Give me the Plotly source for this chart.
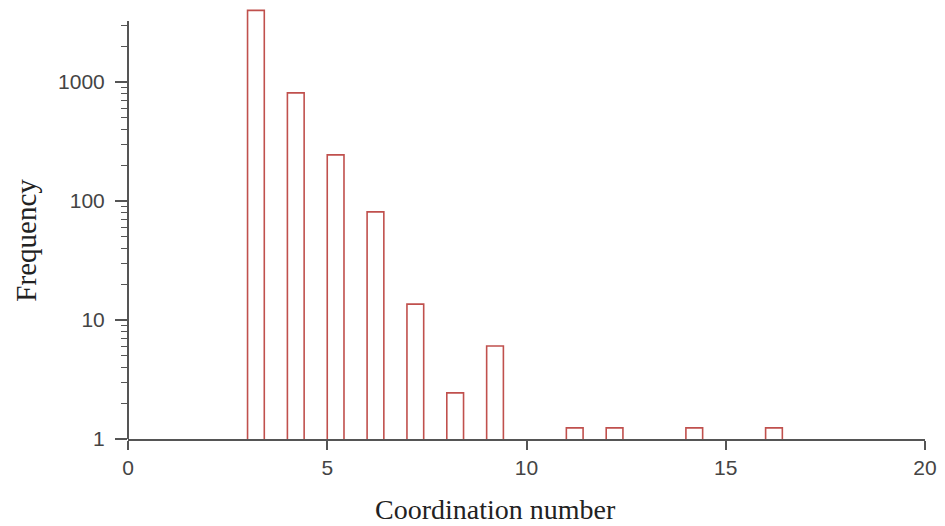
import numpy as np
import plotly.graph_objects as go

coord_numbers = [3, 4, 5, 6, 7, 8, 9, 11, 12, 14, 16]
frequency = [4000, 810, 244, 81, 13.6, 2.44, 6.04, 1.24, 1.24, 1.24, 1.24]

x_ticks = [0, 5, 10, 15, 20]
y_ticks = [1, 10, 100, 1000]
y_tick_labels = ["1", "10", "100", "1000"]
y_minor = [m * d for d in [1, 10, 100, 1000] for m in range(2, 10) if m * d < 3300]
y_axis_top = 3255   # where the drawn y-axis line ends
y_view_top = 4186   # plot area top (bar 3 extends above the axis line)

bar_color = "#c0504d"
axis_color = "#555555"

W, H = 945, 526
L, R, T, B = 128, 15, 8, 87
pw, ph = W - L - R, H - T - B

fig = go.Figure()
fig.add_trace(go.Bar(
    x=coord_numbers,
    y=frequency,
    offset=0,
    width=0.42,
    marker=dict(color="rgba(255,255,255,0)", line=dict(color=bar_color, width=1.6)),
))

tickfont = dict(family="Liberation Sans, Arial", size=21, color="#444")
fig.update_layout(
    width=W, height=H,
    margin=dict(l=L, r=R, t=T, b=B),
    paper_bgcolor="white", plot_bgcolor="white",
    showlegend=False,
    xaxis=dict(
        range=[0, 20], tickvals=x_ticks, ticks="outside", ticklen=9, tickwidth=1.5,
        tickcolor=axis_color, showline=True, linecolor=axis_color, linewidth=2,
        showgrid=False, zeroline=False, ticklabelstandoff=0,
        tickfont=tickfont,
    ),
    yaxis=dict(
        type="log", range=[0, np.log10(y_view_top)], tickvals=y_ticks, ticktext=y_tick_labels,
        ticks="outside", ticklen=12, tickwidth=1.5, tickcolor=axis_color,
        showline=False, showgrid=False, zeroline=False, ticklabelstandoff=6,
        minor=dict(tickvals=y_minor, ticks="outside", ticklen=6, tickwidth=1.2,
                   tickcolor=axis_color, showgrid=False),
        tickfont=tickfont,
    ),
)

# y axis line, ending below the top of the tallest bar as in the reference
fig.add_shape(type="line", xref="paper", yref="y", x0=0, x1=0,
              y0=1, y1=y_axis_top,
              line=dict(color=axis_color, width=2))

fig.add_annotation(text="Coordination number",
                   x=(498 - L) / pw, y=-(510 - (H - B)) / ph, xref="paper", yref="paper",
                   xanchor="center", yanchor="middle", showarrow=False,
                   font=dict(family="Liberation Serif, Times New Roman", size=28, color="#222"))
fig.add_annotation(text="Frequency", textangle=-90,
                   x=-(L - 25) / pw, y=((H - B) - 240) / ph, xref="paper", yref="paper",
                   xanchor="center", yanchor="middle", showarrow=False,
                   font=dict(family="Liberation Serif, Times New Roman", size=29, color="#222"))

fig.write_html("out.html", config={"displayModeBar": False},
               post_script="document.body.style.margin='0';document.body.style.overflow='hidden';")
